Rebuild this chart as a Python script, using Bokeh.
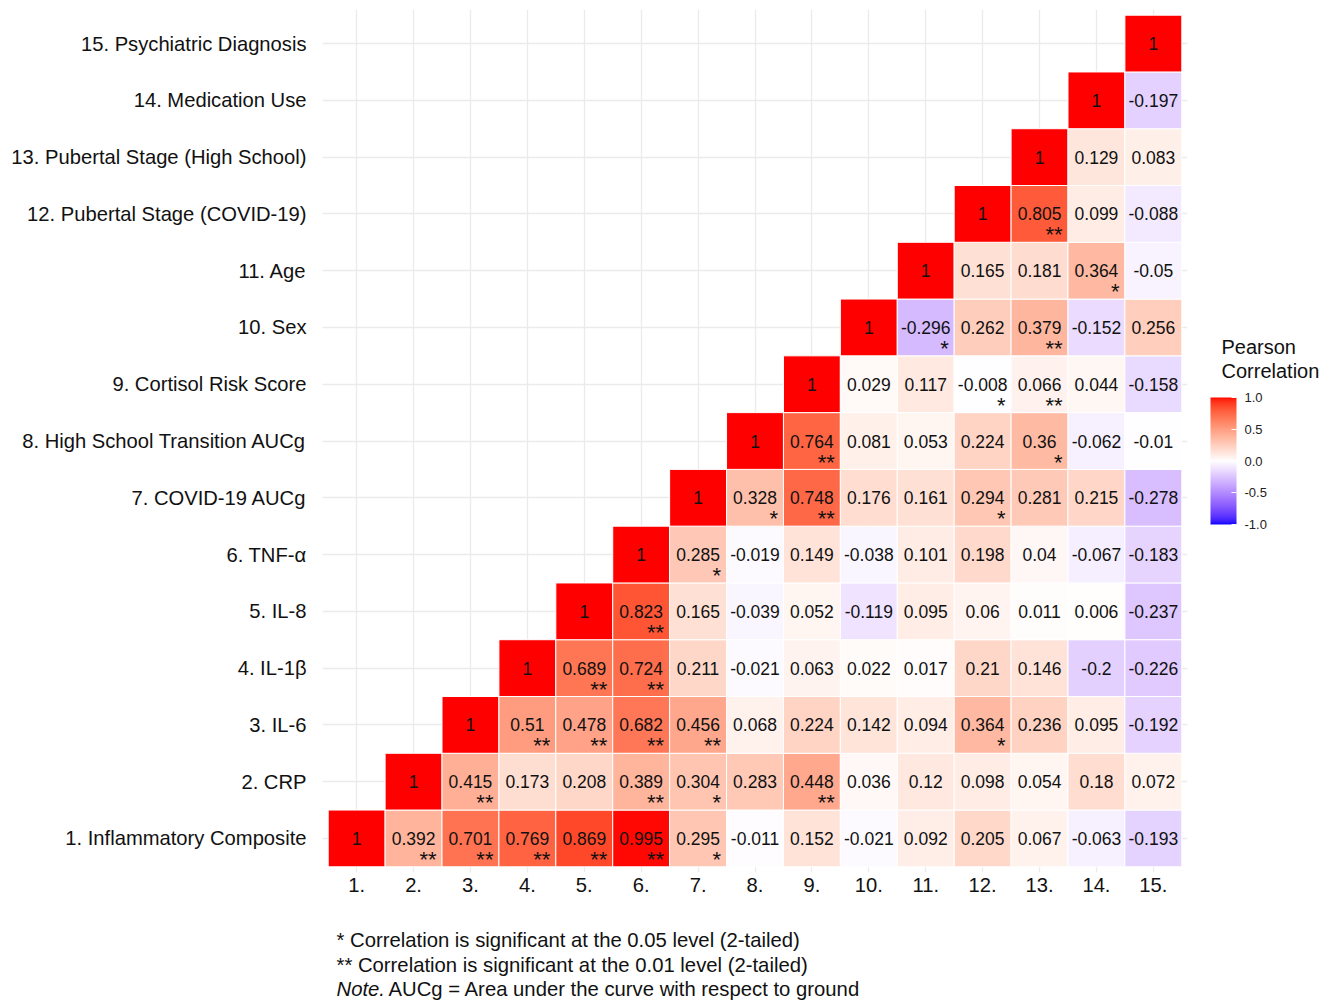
import numpy as np
from bokeh.plotting import figure
from bokeh.layouts import column
from bokeh.models import (ColumnDataSource, FixedTicker, ColorBar,
                          LinearColorMapper, Range1d, PrintfTickFormatter)
from bokeh.embed import file_html
from bokeh.resources import INLINE
from bokeh.core.properties import value

# ---------------- data ----------------
var_labels = ["1. Inflammatory Composite", "2. CRP", "3. IL-6", "4. IL-1β", "5. IL-8",
              "6. TNF-α", "7. COVID-19 AUCg", "8. High School Transition AUCg",
              "9. Cortisol Risk Score", "10. Sex", "11. Age",
              "12. Pubertal Stage (COVID-19)", "13. Pubertal Stage (High School)",
              "14. Medication Use", "15. Psychiatric Diagnosis"]
col_labels = ["1.", "2.", "3.", "4.", "5.", "6.", "7.", "8.", "9.", "10.",
              "11.", "12.", "13.", "14.", "15."]

# each row i holds correlations with columns i..15
r01 = [1, 0.392, 0.701, 0.769, 0.869, 0.995, 0.295, -0.011, 0.152, -0.021, 0.092, 0.205, 0.067, -0.063, -0.193]
s01 = ["", "**", "**", "**", "**", "**", "*", "", "", "", "", "", "", "", ""]
r02 = [1, 0.415, 0.173, 0.208, 0.389, 0.304, 0.283, 0.448, 0.036, 0.12, 0.098, 0.054, 0.18, 0.072]
s02 = ["", "**", "", "", "**", "*", "", "**", "", "", "", "", "", ""]
r03 = [1, 0.51, 0.478, 0.682, 0.456, 0.068, 0.224, 0.142, 0.094, 0.364, 0.236, 0.095, -0.192]
s03 = ["", "**", "**", "**", "**", "", "", "", "", "*", "", "", ""]
r04 = [1, 0.689, 0.724, 0.211, -0.021, 0.063, 0.022, 0.017, 0.21, 0.146, -0.2, -0.226]
s04 = ["", "**", "**", "", "", "", "", "", "", "", "", ""]
r05 = [1, 0.823, 0.165, -0.039, 0.052, -0.119, 0.095, 0.06, 0.011, 0.006, -0.237]
s05 = ["", "**", "", "", "", "", "", "", "", "", ""]
r06 = [1, 0.285, -0.019, 0.149, -0.038, 0.101, 0.198, 0.04, -0.067, -0.183]
s06 = ["", "*", "", "", "", "", "", "", "", ""]
r07 = [1, 0.328, 0.748, 0.176, 0.161, 0.294, 0.281, 0.215, -0.278]
s07 = ["", "*", "**", "", "", "*", "", "", ""]
r08 = [1, 0.764, 0.081, 0.053, 0.224, 0.36, -0.062, -0.01]
s08 = ["", "**", "", "", "", "*", "", ""]
r09 = [1, 0.029, 0.117, -0.008, 0.066, 0.044, -0.158]
s09 = ["", "", "", "*", "**", "", ""]
r10 = [1, -0.296, 0.262, 0.379, -0.152, 0.256]
s10 = ["", "*", "", "**", "", ""]
r11 = [1, 0.165, 0.181, 0.364, -0.05]
s11 = ["", "", "", "*", ""]
r12 = [1, 0.805, 0.099, -0.088]
s12 = ["", "**", "", ""]
r13 = [1, 0.129, 0.083]
s13 = ["", "", ""]
r14 = [1, -0.197]
s14 = ["", ""]
r15 = [1]
s15 = [""]

legend_ticks = [-1.0, -0.5, 0.0, 0.5, 1.0]
legend_title_lines = ["Pearson", "Correlation"]
caption_lines = ["* Correlation is significant at the 0.05 level (2-tailed)",
                 "** Correlation is significant at the 0.01 level (2-tailed)"]
note_lead = "Note."
note_text = "AUCg = Area under the curve with respect to ground"

rows_r = [r01, r02, r03, r04, r05, r06, r07, r08, r09, r10, r11, r12, r13, r14, r15]
rows_s = [s01, s02, s03, s04, s05, s06, s07, s08, s09, s10, s11, s12, s13, s14, s15]

# ---------------- colour (Lab interpolation, like gradient2) ----------------
def _lin(c):
    c = np.asarray(c, float)
    return np.where(c <= 0.04045, c / 12.92, ((c + 0.055) / 1.055) ** 2.4)

def _unlin(c):
    c = np.asarray(c, float)
    return np.where(c <= 0.0031308, 12.92 * c, 1.055 * np.power(np.clip(c, 0, None), 1 / 2.4) - 0.055)

M = np.array([[0.4124, 0.3576, 0.1805], [0.2126, 0.7152, 0.0722], [0.0193, 0.1192, 0.9505]])
WP = np.array([0.95047, 1.0, 1.08883])

def rgb2lab(rgb):
    xyz = M @ _lin(rgb) / WP
    f = np.where(xyz > (6 / 29) ** 3, np.cbrt(xyz), xyz / (3 * (6 / 29) ** 2) + 4 / 29)
    return np.array([116 * f[1] - 16, 500 * (f[0] - f[1]), 200 * (f[1] - f[2])])

def lab2rgb(lab):
    L, a, b = lab
    fy = (L + 16) / 116
    fx = fy + a / 500
    fz = fy - b / 200
    f = np.array([fx, fy, fz])
    xyz = np.where(f > 6 / 29, f ** 3, 3 * (6 / 29) ** 2 * (f - 4 / 29)) * WP
    rgb = _unlin(np.linalg.inv(M) @ xyz)
    return np.clip(rgb, 0, 1)

LAB_LOW = rgb2lab([0, 0, 1])
LAB_MID = rgb2lab([1, 1, 1])
LAB_HIGH = rgb2lab([1, 0, 0])

def corr_color(v):
    v = max(-1.0, min(1.0, float(v)))
    if v >= 0:
        lab = LAB_MID + (LAB_HIGH - LAB_MID) * v
    else:
        lab = LAB_MID + (LAB_LOW - LAB_MID) * (-v)
    r, g, b = (np.round(lab2rgb(lab) * 255)).astype(int)
    return "#%02x%02x%02x" % (r, g, b)

xs, ys, vals, txt, stars, cols = [], [], [], [], [], []
for i, (rr, ss) in enumerate(zip(rows_r, rows_s)):
    for k, (v, s) in enumerate(zip(rr, ss)):
        xs.append(i + 1 + k)
        ys.append(i + 1)
        vals.append(v)
        txt.append(f"{v:g}")
        stars.append(s)
        cols.append(corr_color(v))

src = ColumnDataSource(dict(x=xs, y=ys, v=vals, txt=txt, stars=stars, col=cols))

FONT = "Liberation Sans"
INK = "#111111"
FL, FB = 322, 872          # frame left / bottom on the page (px)
TOTAL_W = 1324

p = figure(frame_width=865, frame_height=863,
           min_border_left=FL, min_border_right=TOTAL_W - FL - 865, min_border_top=9,
           min_border_bottom=38,
           x_range=Range1d(0.4, 15.6), y_range=Range1d(0.4, 15.6),
           output_backend="svg", toolbar_location=None, tools="")
p.outline_line_color = None
p.background_fill_color = "white"
p.border_fill_color = "white"

ticks = FixedTicker(ticks=list(range(1, 16)))
p.xaxis.ticker = ticks
p.yaxis.ticker = ticks
p.xgrid.ticker = ticks
p.ygrid.ticker = ticks
p.xaxis.major_label_overrides = {i + 1: lab for i, lab in enumerate(col_labels)}
p.yaxis.major_label_overrides = {i + 1: lab for i, lab in enumerate(var_labels)}
for ax in (p.xaxis, p.yaxis):
    ax.axis_line_color = None
    ax.major_tick_line_color = None
    ax.minor_tick_line_color = None
    ax.major_tick_in = 0
    ax.major_tick_out = 0
    ax.major_label_text_font = FONT
    ax.major_label_text_font_size = "20.2px"
    ax.major_label_text_color = INK
p.yaxis.major_label_standoff = 16
p.xaxis.major_label_standoff = 5
for g in (p.xgrid, p.ygrid):
    g.grid_line_color = "#EBEBEB"
    g.grid_line_width = 1.3

p.rect(x="x", y="y", width=1, height=1, source=src, fill_color="col",
       line_color="white", line_width=1)
p.text(x="x", y="y", text="txt", source=src, text_align="center", text_baseline="middle",
       text_font=value(FONT), text_font_size="17.5px", text_color=INK)
p.text(x="x", y="y", text="stars", source=src, text_align="right", text_baseline="middle",
       x_offset=23, y_offset=21,
       text_font=value(FONT), text_font_size="22px", text_color=INK)

# legend (colour bar)
pal = [corr_color(v) for v in np.linspace(-1, 1, 256)]
mapper = LinearColorMapper(palette=pal, low=-1, high=1)
cb = ColorBar(color_mapper=mapper, ticker=FixedTicker(ticks=legend_ticks),
              formatter=PrintfTickFormatter(format="%.1f"),
              width=26, height=127, location=(1210 - FL, FB - 524), padding=0,
              label_standoff=8, major_label_text_font=FONT,
              major_label_text_font_size="13px", major_label_text_color="#222222",
              major_tick_line_color="white", major_tick_in=5, major_tick_out=0,
              minor_tick_line_color=None, bar_line_color=None,
              border_line_color=None, background_fill_color=None)
p.add_layout(cb, "center")

# legend title: two title-only horizontal bars (bar itself transparent)
for line, y_bottom in zip(legend_title_lines, (358, 382)):
    tb = ColorBar(color_mapper=mapper, orientation="horizontal", ticker=FixedTicker(ticks=[]),
                  width=100, height=1, scale_alpha=0.0, padding=0,
                  location=(1221 - FL, FB - y_bottom),
                  title=line, title_text_font=FONT, title_text_font_size="20px",
                  title_text_font_style="normal", title_text_color=INK, title_standoff=0,
                  major_label_text_color=None, major_tick_line_color=None,
                  minor_tick_line_color=None, bar_line_color=None,
                  border_line_color=None, background_fill_color=None)
    p.add_layout(tb, "center")

# caption strip below the chart (its frame is aligned with the chart's frame)
cap = figure(width=TOTAL_W, height=90, x_range=Range1d(FL, FL + 865), y_range=Range1d(90, 0),
             min_border=0, output_backend="svg", toolbar_location=None, tools="")
cap.axis.visible = False
cap.grid.visible = False
cap.outline_line_color = None
cap.background_fill_color = "white"
cap.border_fill_color = "white"
cap.text(x=[336, 336], y=[29, 54], text=caption_lines, text_align="left", text_baseline="middle",
         text_font=value(FONT), text_font_size="20.3px", text_color=INK)
cap.text(x=[336], y=[78], text=[note_lead], text_align="left", text_baseline="middle",
         text_font=value(FONT), text_font_size="20.3px", text_font_style="italic", text_color=INK)
cap.text(x=[388], y=[78], text=[note_text], text_align="left", text_baseline="middle",
         text_font=value(FONT), text_font_size="20.3px", text_color=INK)

layout = column(p, cap, spacing=0)
open("out.html", "w").write(file_html(layout, INLINE))
